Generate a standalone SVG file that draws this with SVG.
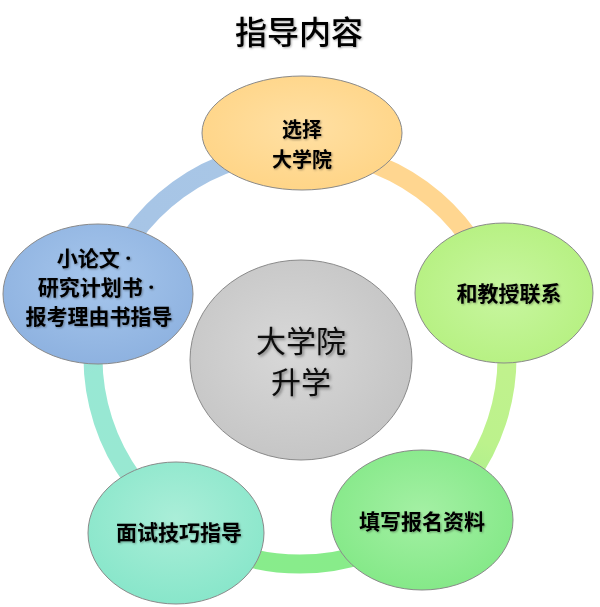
<svg xmlns="http://www.w3.org/2000/svg" width="600" height="607" viewBox="0 0 600 607">
<defs>
<style>
.ring{fill:none;stroke-width:19}
.node{stroke:#8a8a8a;stroke-width:1}
.lbl{font-family:"Noto Sans CJK SC","Noto Sans",sans-serif;font-weight:bold;font-size:21px;fill:#000;text-anchor:middle;filter:url(#ts)}
.dot{font-family:"Noto Sans","DejaVu Sans",sans-serif}
.big{font-family:"Noto Sans CJK SC","Noto Sans",sans-serif;font-size:30px;fill:#111;text-anchor:middle;filter:url(#ts2)}
</style>
<filter id="ts" x="-10%" y="-20%" width="120%" height="140%">
<feDropShadow dx="1" dy="1" stdDeviation="0.8" flood-color="#000" flood-opacity="0.35"/>
</filter>
<filter id="ts2" x="-10%" y="-20%" width="130%" height="150%">
<feDropShadow dx="1.5" dy="1.5" stdDeviation="1.5" flood-color="#000" flood-opacity="0.45"/>
</filter>
<radialGradient id="gOrange" cx="50%" cy="45%" r="60%"><stop offset="0" stop-color="#FFE0A4"/><stop offset="1" stop-color="#FFD485"/></radialGradient>
<radialGradient id="gLime" cx="50%" cy="50%" r="60%"><stop offset="0" stop-color="#C8F6A0"/><stop offset="1" stop-color="#B4F07E"/></radialGradient>
<radialGradient id="gGreen" cx="50%" cy="45%" r="60%"><stop offset="0" stop-color="#A4F0A4"/><stop offset="1" stop-color="#82E886"/></radialGradient>
<radialGradient id="gTeal" cx="50%" cy="40%" r="60%"><stop offset="0" stop-color="#AAEED8"/><stop offset="1" stop-color="#88E6CA"/></radialGradient>
<radialGradient id="gBlue" cx="50%" cy="40%" r="60%"><stop offset="0" stop-color="#A6C6EC"/><stop offset="1" stop-color="#8EB2E0"/></radialGradient>
<radialGradient id="gGray" cx="45%" cy="45%" r="60%"><stop offset="0" stop-color="#D8D8D8"/><stop offset="1" stop-color="#C4C4C4"/></radialGradient>
<linearGradient id="s1" gradientUnits="userSpaceOnUse" x1="300" y1="150" x2="496.9" y2="293"><stop offset="0" stop-color="#FFD690"/><stop offset="0.75" stop-color="#FFD690"/><stop offset="1" stop-color="#D8EE90"/></linearGradient>
<linearGradient id="s2" gradientUnits="userSpaceOnUse" x1="496.9" y1="293" x2="421.7" y2="524.5"><stop offset="0" stop-color="#C4F28E"/><stop offset="0.6" stop-color="#BCF28C"/><stop offset="1" stop-color="#98EC8E"/></linearGradient>
<linearGradient id="s3" gradientUnits="userSpaceOnUse" x1="421.7" y1="524.5" x2="178.3" y2="524.5"><stop offset="0" stop-color="#88EC88"/><stop offset="0.7" stop-color="#88EC8C"/><stop offset="1" stop-color="#92EAB8"/></linearGradient>
<linearGradient id="s4" gradientUnits="userSpaceOnUse" x1="178.3" y1="524.5" x2="103.1" y2="293"><stop offset="0" stop-color="#98E8D0"/><stop offset="0.7" stop-color="#98E8D4"/><stop offset="1" stop-color="#A2D2E0"/></linearGradient>
<linearGradient id="s5" gradientUnits="userSpaceOnUse" x1="103.1" y1="293" x2="300" y2="150"><stop offset="0" stop-color="#A6C4E6"/><stop offset="0.7" stop-color="#A8C6E6"/><stop offset="1" stop-color="#C8D4D0"/></linearGradient>
</defs>
<rect width="600" height="607" fill="#fff"/>
<text x="299" y="44" font-family="'Noto Sans CJK SC','Noto Sans',sans-serif" font-size="32" font-weight="500" fill="#000" text-anchor="middle" filter="url(#ts)">指导内容</text>
<g id="connectors">
<path class="ring" stroke="url(#s1)" d="M300,150 A207,207 0 0 1 496.9,293"/>
<path class="ring" stroke="url(#s2)" d="M496.9,293 A207,207 0 0 1 421.7,524.5"/>
<path class="ring" stroke="url(#s3)" d="M421.7,524.5 A207,207 0 0 1 178.3,524.5"/>
<path class="ring" stroke="url(#s4)" d="M178.3,524.5 A207,207 0 0 1 103.1,293"/>
<path class="ring" stroke="url(#s5)" d="M103.1,293 A207,207 0 0 1 300,150"/>
</g>
<g id="center">
<ellipse class="node" cx="301" cy="360" rx="111" ry="100" fill="url(#gGray)"/>
<text class="big" x="301" y="352">大学院</text>
<text class="big" x="301" y="393">升学</text>
</g>
<g id="node-top">
<ellipse class="node" cx="302" cy="133" rx="100" ry="57" fill="url(#gOrange)"/>
<text class="lbl" x="302" y="137" style="font-size:20px">选择</text>
<text class="lbl" x="302" y="167" style="font-size:20px">大学院</text>
</g>
<g id="node-right">
<ellipse class="node" cx="504" cy="293" rx="89" ry="70" fill="url(#gLime)"/>
<text class="lbl" x="509" y="301">和教授联系</text>
</g>
<g id="node-bottom-right">
<ellipse class="node" cx="422" cy="520" rx="91" ry="70" fill="url(#gGreen)"/>
<text class="lbl" x="422" y="529">填写报名资料</text>
</g>
<g id="node-bottom-left">
<ellipse class="node" cx="176" cy="533" rx="88" ry="71" fill="url(#gTeal)"/>
<text class="lbl" x="179" y="540">面试技巧指导</text>
</g>
<g id="node-left">
<ellipse class="node" cx="98" cy="294" rx="95" ry="70" fill="url(#gBlue)"/>
<text class="lbl" x="94" y="266">小论文<tspan class="dot"> ·</tspan></text>
<text class="lbl" x="96" y="295">研究计划书<tspan class="dot"> ·</tspan></text>
<text class="lbl" x="99" y="324">报考理由书指导</text>
</g>
</svg>
